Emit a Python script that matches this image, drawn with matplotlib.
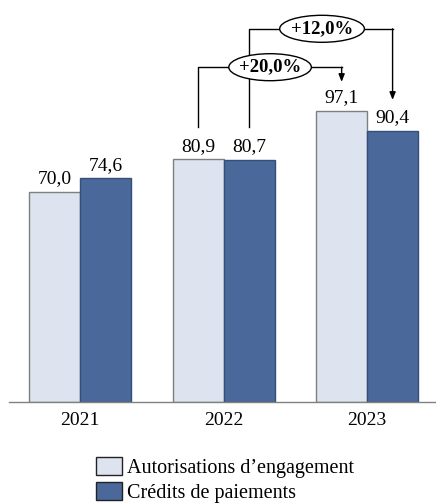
import numpy as np
import matplotlib.pyplot as plt
from matplotlib.patches import Ellipse

years = ['2021', '2022', '2023']
ae = [70.0, 80.9, 97.1]
cp = [74.6, 80.7, 90.4]
series_names = ['Autorisations d\u2019engagement', 'Crédits de paiements']
growth_ae = '+20,0%'
growth_cp = '+12,0%'

light = '#dde4ef'
dark = '#4a6899'

plt.rcParams['font.family'] = ['Liberation Serif', 'DejaVu Serif']

fig = plt.figure(figsize=(4.36, 5.04), dpi=100)
ax = fig.add_axes([9 / 436, 102 / 504, 427 / 436, 402 / 504])

x = np.arange(len(years))
w = 0.355
ax.bar(x - w / 2, ae, w, color=light, edgecolor='#7f7f7f', linewidth=1,
       label=series_names[0], zorder=2)
ax.bar(x + w / 2, cp, w, color=dark, edgecolor='#34507a', linewidth=1,
       label=series_names[1], zorder=2)

for xi, a, c in zip(x, ae, cp):
    ax.text(xi - w / 2, a + 1.5, f'{a:.1f}'.replace('.', ','),
            ha='center', va='bottom', fontsize=14)
    ax.text(xi + w / 2, c + 1.5, f'{c:.1f}'.replace('.', ','),
            ha='center', va='bottom', fontsize=14)

arrow = dict(arrowstyle='-|>,head_length=0.45,head_width=0.18',
             color='black', lw=1, shrinkA=0, shrinkB=0)


def connector(x0, y0, x1, y1, level, cx, label, ew):
    # vertical up, across, then arrow down onto the target bar
    ax.plot([x0, x0, x1], [y0, level, level], color='black', lw=1, zorder=3)
    ax.annotate('', xy=(x1, y1), xytext=(x1, level), arrowprops=arrow,
                zorder=3)
    ax.add_patch(Ellipse((cx, level), ew, 9.0, facecolor='white',
                         edgecolor='black', lw=1, zorder=4))
    ax.text(cx, level, label, ha='center', va='center', fontsize=13.5,
            fontweight='bold', zorder=5)


connector(1 - w / 2, ae[1] + 10.8, 2 - w / 2, ae[2] + 9.6,
          111.6, 1.324, growth_ae, 0.575)
connector(1 + w / 2, cp[1] + 11.0, 2 + w / 2, cp[2] + 10.3,
          124.4, 1.686, growth_cp, 0.59)

ax.set_xlim(-0.495, 2.48)
ax.set_ylim(0, 134)
ax.set_xticks(x)
ax.set_xticklabels(years, fontsize=14)
ax.tick_params(axis='x', length=0, pad=7)
ax.set_yticks([])
for s in ['top', 'right', 'left']:
    ax.spines[s].set_visible(False)
ax.spines['bottom'].set_color('#808080')
ax.spines['bottom'].set_linewidth(1)

h, l = ax.get_legend_handles_labels()
leg = fig.legend(h, l, loc='upper left', bbox_to_anchor=(96 / 436, 1 - 457 / 504),
                 frameon=False, fontsize=14.5, handlelength=1.3,
                 handleheight=1.0, handletextpad=0.25, labelspacing=0.2,
                 borderaxespad=0, borderpad=0)
for p in leg.get_patches():
    p.set_edgecolor('#222222')

fig.savefig('out.png', dpi=100)
